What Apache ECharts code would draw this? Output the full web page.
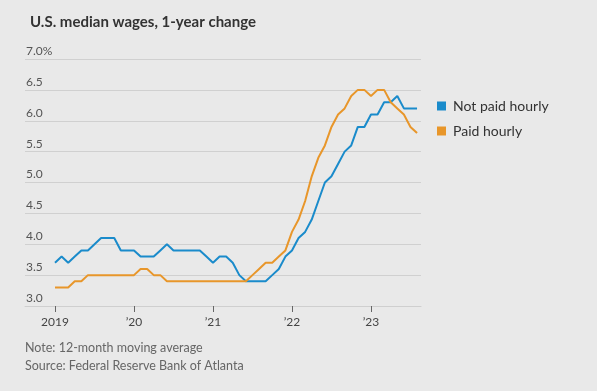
<!DOCTYPE html>
<html>
<head>
<meta charset="utf-8">
<script src="https://cdn.jsdelivr.net/npm/echarts@6/dist/echarts.min.js"></script>
<style>
html,body{margin:0;padding:0;background:#e9e9e9;}
#c{width:597px;height:391px;}
</style>
</head>
<body>
<div id="c"></div>
<script>
// Monthly data, Jan 2019 .. Aug 2023 (month index 0..55)
const notPaidHourly = [3.7,3.8,3.7,3.8,3.9,3.9,4.0,4.1,4.1,4.1,3.9,3.9,
  3.9,3.8,3.8,3.8,3.9,4.0,3.9,3.9,3.9,3.9,3.9,3.8,
  3.7,3.8,3.8,3.7,3.5,3.4,3.4,3.4,3.4,3.5,3.6,3.8,
  3.9,4.1,4.2,4.4,4.7,5.0,5.1,5.3,5.5,5.6,5.9,5.9,
  6.1,6.1,6.3,6.3,6.4,6.2,6.2,6.2];
const paidHourly = [3.3,3.3,3.3,3.4,3.4,3.5,3.5,3.5,3.5,3.5,3.5,3.5,
  3.5,3.6,3.6,3.5,3.5,3.4,3.4,3.4,3.4,3.4,3.4,3.4,
  3.4,3.4,3.4,3.4,3.4,3.4,3.5,3.6,3.7,3.7,3.8,3.9,
  4.2,4.4,4.7,5.1,5.4,5.6,5.9,6.1,6.2,6.4,6.5,6.5,
  6.4,6.5,6.5,6.3,6.2,6.1,5.9,5.8];
const xTickValues = [0,12,24,36,48];
const xTickLabels = ['2019','\u201920','\u201921','\u201922','\u201923'];
const seriesNames = ['Not paid hourly','Paid hourly'];
const colors = ['#1a8bcb','#e8962a'];

const toPairs = arr => arr.map((v,i)=>[i,v]);
const FONT = 'Lato, "Noto Sans", sans-serif';

const chart = echarts.init(document.getElementById('c'), null, {renderer:'canvas'});
chart.setOption({
  backgroundColor:'#e9e9e9',
  animation:false,
  title:{
    text:'U.S. median wages, 1-year change',
    left:25, top:10,
    textStyle:{fontFamily:FONT, fontSize:15, fontWeight:'bold', color:'#333'}
  },
  legend:{
    orient:'vertical', left:432, top:94,
    icon:'rect', itemWidth:9, itemHeight:9, itemGap:11,
    textStyle:{fontFamily:FONT, fontSize:14, color:'#333', lineHeight:14, padding:[0,0,0,2]},
    data:seriesNames
  },
  grid:{left:25, right:176, top:59, bottom:85},
  xAxis:{
    type:'value', min:-4.56, max:55.6,
    splitLine:{show:false},
    axisLine:{show:true, lineStyle:{color:'#cfcfcf', width:1}},
    axisTick:{show:true, customValues:xTickValues, length:6, lineStyle:{color:'#666'}},
    axisLabel:{
      customValues:xTickValues,
      formatter:v=>xTickLabels[xTickValues.indexOf(v)],
      fontFamily:FONT, fontSize:12, color:'#444', margin:10
    }
  },
  yAxis:{
    type:'value', min:3, max:7, interval:0.5,
    axisLine:{show:false}, axisTick:{show:false},
    splitLine:{lineStyle:{color:'#d0d0d0', width:1}},
    axisLabel:{
      inside:true, margin:1, align:'left', verticalAlign:'bottom',
      padding:[0,0,2,0],
      formatter:v=> v===7 ? '7.0%' : v.toFixed(1),
      fontFamily:FONT, fontSize:12, color:'#555'
    }
  },
  series:[
    {name:seriesNames[0], type:'line', data:toPairs(notPaidHourly), showSymbol:false,
     lineStyle:{width:2, color:colors[0]}, itemStyle:{color:colors[0]}},
    {name:seriesNames[1], type:'line', data:toPairs(paidHourly), showSymbol:false,
     lineStyle:{width:2, color:colors[1]}, itemStyle:{color:colors[1]}}
  ],
  graphic:[
    {type:'text', left:25, top:341, style:{text:'Note: 12-month moving average', font:'12.5px ' + FONT, fill:'#666'}},
    {type:'text', left:25, top:359, style:{text:'Source: Federal Reserve Bank of Atlanta', font:'12.5px ' + FONT, fill:'#666'}}
  ]
});
</script>
</body>
</html>
